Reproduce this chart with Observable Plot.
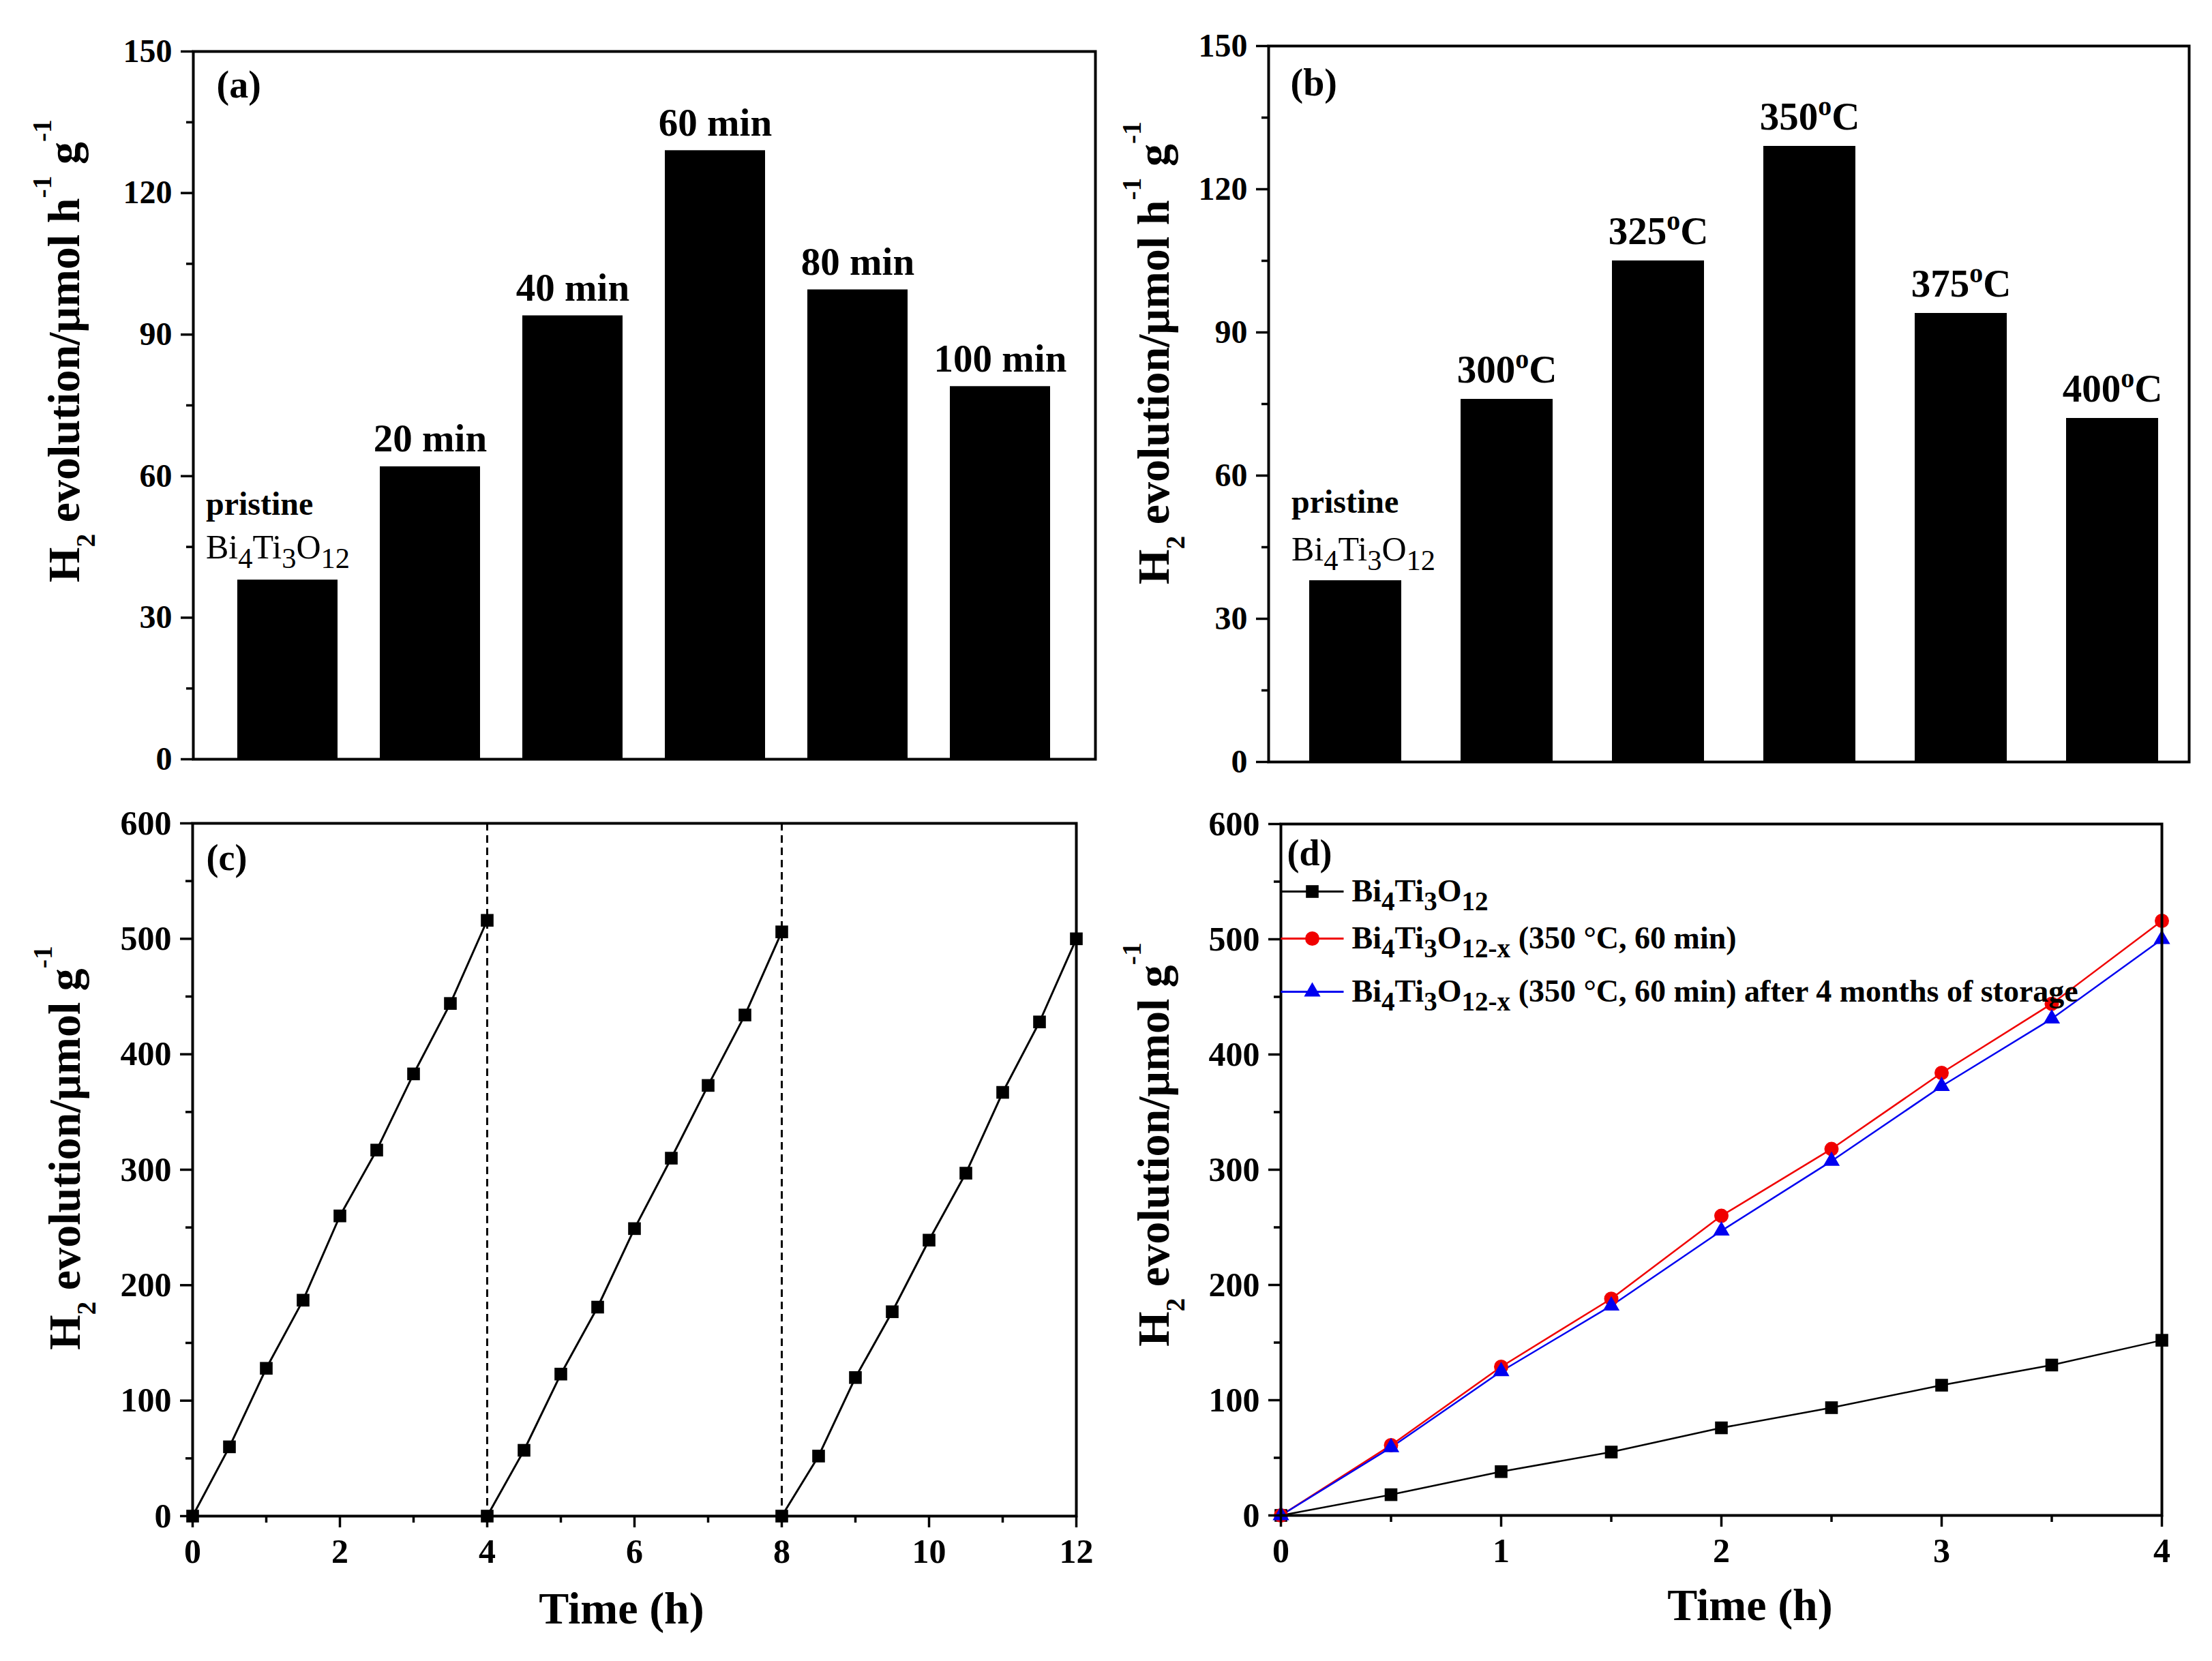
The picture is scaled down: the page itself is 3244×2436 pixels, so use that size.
<!DOCTYPE html>
<html><head><meta charset="utf-8">
<script src="https://cdn.jsdelivr.net/npm/d3@7"></script>
<script src="https://cdn.jsdelivr.net/npm/@observablehq/plot@0.6"></script>
<style>
html,body{margin:0;padding:0;background:#fff;}
#fig{position:relative;width:3244px;height:2436px;background:#fff;overflow:hidden;}
.panel{position:absolute;}
</style></head><body><div id="fig"></div>
<script>
// ---------------- data ----------------
const aCategories = ["pristine", "20 min", "40 min", "60 min", "80 min", "100 min"];
const aValues = [38, 62, 94, 129, 99.5, 79];
const bCategories = ["pristine", "300^{o}C", "325^{o}C", "350^{o}C", "375^{o}C", "400^{o}C"];
const bValues = [38, 76, 105, 129, 94, 72];
const pristineLabel = ["pristine", "Bi_{4}Ti_{3}O_{12}"];
const yTicksAB = [0, 30, 60, 90, 120, 150];
const yMinorAB = [15, 45, 75, 105, 135];
const yLabelAB = "H_{2} evolution/\u03bcmol h^{-1} g^{-1}";
const yLabelCD = "H_{2} evolution/\u03bcmol g^{-1}";
const xLabelCD = "Time (h)";

const cCycle1Time = [0, 0.5, 1, 1.5, 2, 2.5, 3, 3.5, 4];
const cCycle1H2 = [0, 60, 128, 187, 260, 317, 383, 444, 516];
const cCycle2Time = [4, 4.5, 5, 5.5, 6, 6.5, 7, 7.5, 8];
const cCycle2H2 = [0, 57, 123, 181, 249, 310, 373, 434, 506];
const cCycle3Time = [8, 8.5, 9, 9.5, 10, 10.5, 11, 11.5, 12];
const cCycle3H2 = [0, 52, 120, 177, 239, 297, 367, 428, 500];
const cBoundaries = [4, 8];
const cXTicks = [0, 2, 4, 6, 8, 10, 12];
const cXMinor = [1, 3, 5, 7, 9, 11];
const yTicksCD = [0, 100, 200, 300, 400, 500, 600];
const yMinorCD = [50, 150, 250, 350, 450, 550];

const dTime = [0, 0.5, 1, 1.5, 2, 2.5, 3, 3.5, 4];
const dPristine = [0, 18, 38, 55, 76, 93.5, 113, 130.5, 152];
const dFresh = [0, 61, 129, 188, 260, 318, 384, 444, 516];
const dStored = [0, 59, 125, 182, 247, 307.5, 372.5, 431, 500];
const dSeries = [
  "Bi_{4}Ti_{3}O_{12}",
  "Bi_{4}Ti_{3}O_{12-x} (350 \u00b0C, 60 min)",
  "Bi_{4}Ti_{3}O_{12-x} (350 \u00b0C, 60 min) after 4 months of storage"
];
const dColors = ["black", "#f00000", "#0000f0"];
const dSymbols = ["square", "circle", "triangle"];
const dXTicks = [0, 1, 2, 3, 4];
const dXMinor = [0.5, 1.5, 2.5, 3.5];

// ---------------- helpers ----------------
const FONT = "'Liberation Serif', 'Times New Roman', Times, serif";
const fig = document.getElementById("fig");
function baseStyle() {
  return {fontFamily: FONT, fontWeight: "bold", fontSize: "48px", color: "black", background: "white", overflow: "visible"};
}
function place(svg, left, top) {
  svg.classList.add("panel");
  svg.style.left = left + "px";
  svg.style.top = top + "px";
  svg.style.position = "absolute";
  fig.appendChild(svg);
  richify(svg);
}
function richify(svg) {
  svg.querySelectorAll("text").forEach(t => {
    const s = t.textContent;
    if (!/[_^]\{/.test(s) || t.children.length) return;
    const isY = s.startsWith("H_{2}");
    const F = parseFloat(getComputedStyle(t).fontSize);
    const cfg = isY ? {sub: [0.6, 0.36], sup: [0.6, 0.62]} : {sub: [0.85, 0.28], sup: [0.7, 0.36]};
    const parts = [];
    const re = /([_^])\{([^}]*)\}/g;
    let last = 0, m;
    while ((m = re.exec(s))) {
      if (m.index > last) parts.push(["n", s.slice(last, m.index)]);
      parts.push([m[1] === "_" ? "sub" : "sup", m[2]]);
      last = re.lastIndex;
    }
    if (last < s.length) parts.push(["n", s.slice(last)]);
    t.textContent = "";
    let cur = 0;
    for (const [k, str] of parts) {
      const ts = document.createElementNS("http://www.w3.org/2000/svg", "tspan");
      let target = 0;
      if (k === "sub") { target = cfg.sub[1] * F; ts.setAttribute("font-size", cfg.sub[0] * F); }
      if (k === "sup") { target = -cfg.sup[1] * F; ts.setAttribute("font-size", cfg.sup[0] * F); }
      if (target !== cur) ts.setAttribute("dy", target - cur);
      cur = target;
      ts.textContent = str;
      t.appendChild(ts);
    }
  });
}
const hline = {draw(ctx) { ctx.moveTo(-46, 0); ctx.lineTo(46, 0); }};
const intFmt = d => String(d);

// ---------------- panel (a) ----------------
const aRows = aCategories.map((c, i) => ({cat: c, v: aValues[i]}));
const svgA = Plot.plot({
  width: 1622, height: 1160,
  marginTop: 75, marginLeft: 283, marginRight: 16, marginBottom: 47,
  style: baseStyle(),
  x: {domain: aCategories, paddingInner: 0.295, paddingOuter: 0.31, axis: null},
  y: {domain: [0, 150]},
  marks: [
    Plot.barY(aRows, {x: "cat", y: "v", fill: "black"}),
    Plot.text(aRows.filter(d => d.cat !== "pristine"), {x: "cat", y: "v", text: "cat", dy: -22, lineAnchor: "bottom", fontSize: 57}),
    Plot.text(aRows.filter(d => d.cat === "pristine"), {x: "cat", y: "v", text: () => pristineLabel[0], dx: -120, dy: -96, textAnchor: "start", lineAnchor: "bottom", fontSize: 48}),
    Plot.text(aRows.filter(d => d.cat === "pristine"), {x: "cat", y: "v", text: () => pristineLabel[1], dx: -120, dy: -32, textAnchor: "start", lineAnchor: "bottom", fontSize: 50, fontWeight: "normal"}),
    Plot.frame({strokeWidth: 4}),
    Plot.axisY(yTicksAB, {tickSize: 18, tickPadding: 13, strokeWidth: 3.5, fontSize: 48, label: null, tickFormat: intFmt}),
    Plot.axisY(yMinorAB, {tickSize: 10, tickFormat: () => "", strokeWidth: 3.5, label: null}),
    Plot.text([yLabelAB], {frameAnchor: "left", rotate: -90, dx: -168, dy: -80, textAnchor: "middle", lineAnchor: "bottom", fontSize: 66}),
    Plot.text(["(a)"], {frameAnchor: "top-left", dx: 34, dy: 67, textAnchor: "start", lineAnchor: "bottom", fontSize: 56})
  ]
});
place(svgA, 0, 0);

// ---------------- panel (b) ----------------
const bRows = bCategories.map((c, i) => ({cat: c, v: bValues[i]}));
const svgB = Plot.plot({
  width: 1622, height: 1160,
  marginTop: 67, marginLeft: 238, marginRight: 34, marginBottom: 43,
  style: baseStyle(),
  x: {domain: bCategories, paddingInner: 0.39, paddingOuter: 0.224, align: 0.57, axis: null},
  y: {domain: [0, 150]},
  marks: [
    Plot.barY(bRows, {x: "cat", y: "v", fill: "black"}),
    Plot.text(bRows.filter(d => d.cat !== "pristine"), {x: "cat", y: "v", text: "cat", dy: -25, lineAnchor: "bottom", fontSize: 57}),
    Plot.text(bRows.filter(d => d.cat === "pristine"), {x: "cat", y: "v", text: () => pristineLabel[0], dx: -94, dy: -100, textAnchor: "start", lineAnchor: "bottom", fontSize: 48}),
    Plot.text(bRows.filter(d => d.cat === "pristine"), {x: "cat", y: "v", text: () => pristineLabel[1], dx: -94, dy: -30, textAnchor: "start", lineAnchor: "bottom", fontSize: 50, fontWeight: "normal"}),
    Plot.frame({strokeWidth: 4}),
    Plot.axisY(yTicksAB, {tickSize: 18, tickPadding: 13, strokeWidth: 3.5, fontSize: 48, label: null, tickFormat: intFmt}),
    Plot.axisY(yMinorAB, {tickSize: 10, tickFormat: () => "", strokeWidth: 3.5, label: null}),
    Plot.text([yLabelAB], {frameAnchor: "left", rotate: -90, dx: -147, dy: -75, textAnchor: "middle", lineAnchor: "bottom", fontSize: 66}),
    Plot.text(["(b)"], {frameAnchor: "top-left", dx: 32, dy: 72, textAnchor: "start", lineAnchor: "bottom", fontSize: 56})
  ]
});
place(svgB, 1622, 0);

// ---------------- panel (c) ----------------
const cRows = [
  ...cCycle1Time.map((t, i) => ({t, h: cCycle1H2[i], cycle: 1})),
  ...cCycle2Time.map((t, i) => ({t, h: cCycle2H2[i], cycle: 2})),
  ...cCycle3Time.map((t, i) => ({t, h: cCycle3H2[i], cycle: 3}))
];
const svgC = Plot.plot({
  width: 1622, height: 1276,
  marginTop: 47, marginLeft: 282, marginRight: 44, marginBottom: 213,
  style: baseStyle(),
  x: {domain: [0, 12]},
  y: {domain: [0, 600]},
  marks: [
    Plot.ruleX(cBoundaries, {stroke: "black", strokeWidth: 3, strokeDasharray: "11,7"}),
    Plot.line(cRows, {x: "t", y: "h", z: "cycle", stroke: "black", strokeWidth: 3}),
    Plot.dot(cRows, {x: "t", y: "h", symbol: "square", r: 10.5, fill: "black", stroke: "none"}),
    Plot.frame({strokeWidth: 4}),
    Plot.axisX(cXTicks, {tickSize: 17, tickPadding: 16, strokeWidth: 3.5, fontSize: 50, label: null, tickFormat: intFmt}),
    Plot.axisX(cXMinor, {tickSize: 10, tickFormat: () => "", strokeWidth: 3.5, label: null}),
    Plot.axisY(yTicksCD, {tickSize: 18, tickPadding: 13, strokeWidth: 3.5, fontSize: 50, label: null, tickFormat: intFmt}),
    Plot.axisY(yMinorCD, {tickSize: 10, tickFormat: () => "", strokeWidth: 3.5, label: null}),
    Plot.text([xLabelCD], {frameAnchor: "bottom", dx: -19, dy: 157, textAnchor: "middle", lineAnchor: "bottom", fontSize: 66}),
    Plot.text([yLabelCD], {frameAnchor: "left", rotate: -90, dx: -166, dy: -32, textAnchor: "middle", lineAnchor: "bottom", fontSize: 66}),
    Plot.text(["(c)"], {frameAnchor: "top-left", dx: 20, dy: 68, textAnchor: "start", lineAnchor: "bottom", fontSize: 54})
  ]
});
place(svgC, 0, 1160);

// ---------------- panel (d) ----------------
const dValues = [dPristine, dFresh, dStored];
const dRadius = [10.5, 10.5, 9];
const seriesMarks = [];
dValues.forEach((vals, s) => {
  const rows = dTime.map((t, i) => ({t, h: vals[i]}));
  seriesMarks.push(Plot.line(rows, {x: "t", y: "h", stroke: dColors[s], strokeWidth: 2.5}));
});
dValues.forEach((vals, s) => {
  const rows = dTime.map((t, i) => ({t, h: vals[i]}));
  seriesMarks.push(Plot.dot(rows, {x: "t", y: "h", symbol: dSymbols[s], r: dRadius[s], fill: dColors[s], stroke: "none"}));
});
const legendRowDy = [99, 168, 246];
const legendMarks = [];
dSeries.forEach((name, i) => {
  legendMarks.push(Plot.dot([name], {frameAnchor: "top-left", dx: 46, dy: legendRowDy[i], symbol: hline, r: 5, fill: "none", stroke: dColors[i], strokeWidth: 3}));
  legendMarks.push(Plot.dot([name], {frameAnchor: "top-left", dx: 46, dy: legendRowDy[i], symbol: dSymbols[i], r: dRadius[i], fill: dColors[i], stroke: "none"}));
  legendMarks.push(Plot.text([name], {frameAnchor: "top-left", dx: 104, dy: legendRowDy[i], textAnchor: "start", lineAnchor: "middle", fontSize: 46}));
});
const svgD = Plot.plot({
  width: 1622, height: 1276,
  marginTop: 48, marginLeft: 256, marginRight: 74, marginBottom: 214,
  style: baseStyle(),
  x: {domain: [0, 4]},
  y: {domain: [0, 600]},
  marks: [
    ...seriesMarks,
    Plot.frame({strokeWidth: 4}),
    Plot.axisX(dXTicks, {tickSize: 17, tickPadding: 16, strokeWidth: 3.5, fontSize: 50, label: null, tickFormat: intFmt}),
    Plot.axisX(dXMinor, {tickSize: 10, tickFormat: () => "", strokeWidth: 3.5, label: null}),
    Plot.axisY(yTicksCD, {tickSize: 18, tickPadding: 13, strokeWidth: 3.5, fontSize: 50, label: null, tickFormat: intFmt}),
    Plot.axisY(yMinorCD, {tickSize: 10, tickFormat: () => "", strokeWidth: 3.5, label: null}),
    Plot.text([xLabelCD], {frameAnchor: "bottom", dx: 42, dy: 153, textAnchor: "middle", lineAnchor: "bottom", fontSize: 66}),
    Plot.text([yLabelCD], {frameAnchor: "left", rotate: -90, dx: -165, dy: -37, textAnchor: "middle", lineAnchor: "bottom", fontSize: 66}),
    Plot.text(["(d)"], {frameAnchor: "top-left", dx: 9, dy: 60, textAnchor: "start", lineAnchor: "bottom", fontSize: 54}),
    ...legendMarks
  ]
});
place(svgD, 1622, 1160);
</script></body></html>
